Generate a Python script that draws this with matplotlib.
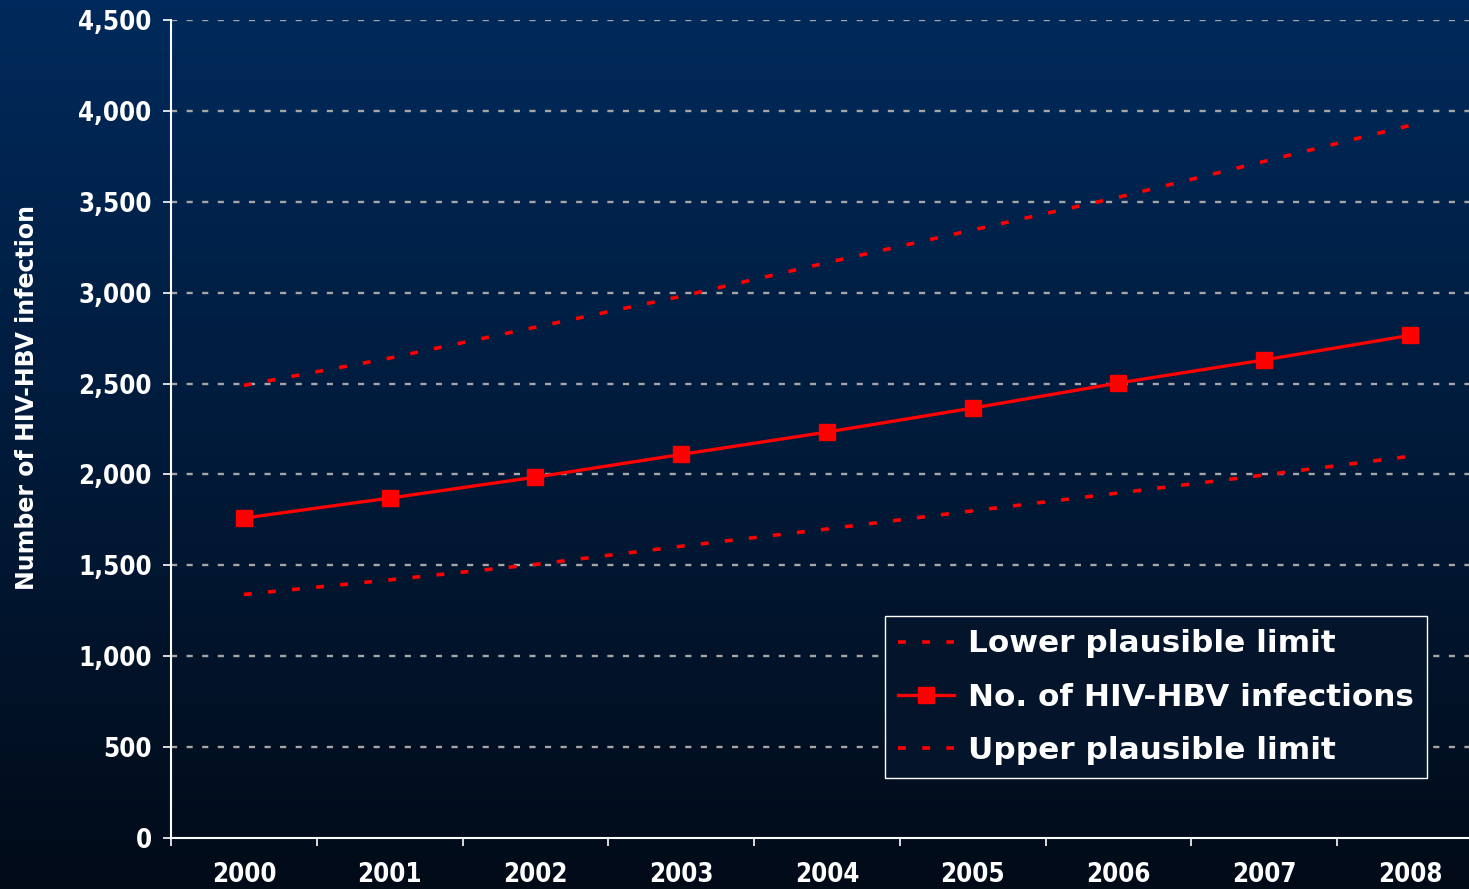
from matplotlib import pyplot as plt
import numpy as np

years = ["2000", "2001", "2002", "2003", "2004", "2005", "2006", "2007", "2008"]
infections = [1760, 1870, 1985, 2110, 2233, 2365, 2503, 2630, 2765]
upper_limit = [2490, 2640, 2810, 2980, 3165, 3345, 3525, 3722, 3920]
lower_limit = [1340, 1420, 1505, 1605, 1700, 1800, 1898, 1997, 2100]
y_ticks = [0, 500, 1000, 1500, 2000, 2500, 3000, 3500, 4000, 4500]

plt.rcParams["font.family"] = ["DejaVu Sans"]

W, H = 1469, 889
fig = plt.figure(figsize=(W / 100, H / 100), dpi=100)

# background gradient, dark blue at top to near black at bottom
bg = fig.add_axes([0, 0, 1, 1], zorder=-5)
top = np.array([0, 42, 92]) / 255
bot = np.array([2, 11, 24]) / 255
t = np.linspace(0, 1, 256)[:, None]
grad = top[None, :] * (1 - t) + bot[None, :] * t
bg.imshow(grad[:, None, :], aspect="auto", extent=[0, 1, 0, 1])
bg.axis("off")

ax = fig.add_axes([171 / W, (H - 838) / H, (W - 171) / W, (838 - 20) / H])
ax.patch.set_alpha(0)

x = np.arange(len(years))
red = "#ff0000"
dots = (2.2, 4.5)
ax.plot(x, lower_limit, color=red, lw=2.6, dashes=dots, label="Lower plausible limit", zorder=3)
ax.plot(x, infections, color=red, lw=2.4, marker="s", markersize=12,
        label="No. of HIV-HBV infections", zorder=4)
ax.plot(x, upper_limit, color=red, lw=2.6, dashes=dots, label="Upper plausible limit", zorder=3)

ax.set_ylim(0, 4500)
ax.set_xlim(-0.5, -0.5 + (W - 171) / 145.75)
ax.set_yticks(y_ticks)
ax.set_yticklabels([f"{v:,}" for v in y_ticks])
ax.set_xticks(x)
ax.set_xticklabels(years)
ax.set_xticks(np.arange(len(years)) - 0.5, minor=True)

for v in y_ticks[1:]:
    ax.axhline(v, color="#a6a6a6", lw=1.7, dashes=(2.6, 4), zorder=1)

for s in ["top", "right"]:
    ax.spines[s].set_visible(False)
for s in ["left", "bottom"]:
    ax.spines[s].set_color("white")
    ax.spines[s].set_linewidth(1.5)

ax.tick_params(axis="x", which="major", length=0, pad=17, labelsize=18.5, labelcolor="white")
ax.tick_params(axis="x", which="minor", length=6, width=1.2, color="white")
ax.tick_params(axis="y", length=6, width=1.2, color="white", pad=8, labelsize=18.5, labelcolor="white")
for lab in ax.get_xticklabels() + ax.get_yticklabels():
    lab.set_fontweight("bold")
    lab.set_fontstretch("condensed")

fig.text(27 / W, (H - 397) / H, "Number of HIV-HBV infection", rotation=90,
         color="white", fontsize=17, fontweight="bold", ha="center", va="center")

leg = ax.legend(loc="lower left", bbox_to_anchor=(885 / W, (H - 778) / H),
                bbox_transform=fig.transFigure, borderaxespad=0, fancybox=False,
                prop={"size": 22.4, "weight": "bold"}, labelcolor="white",
                handlelength=1.8, handletextpad=0.45, labelspacing=0.78,
                borderpad=0.42, framealpha=1)
leg.get_frame().set_facecolor("#03142b")
leg.get_frame().set_edgecolor("white")
leg.get_frame().set_linewidth(1)
leg.set_zorder(10)

fig.savefig("out.png", dpi=100)
